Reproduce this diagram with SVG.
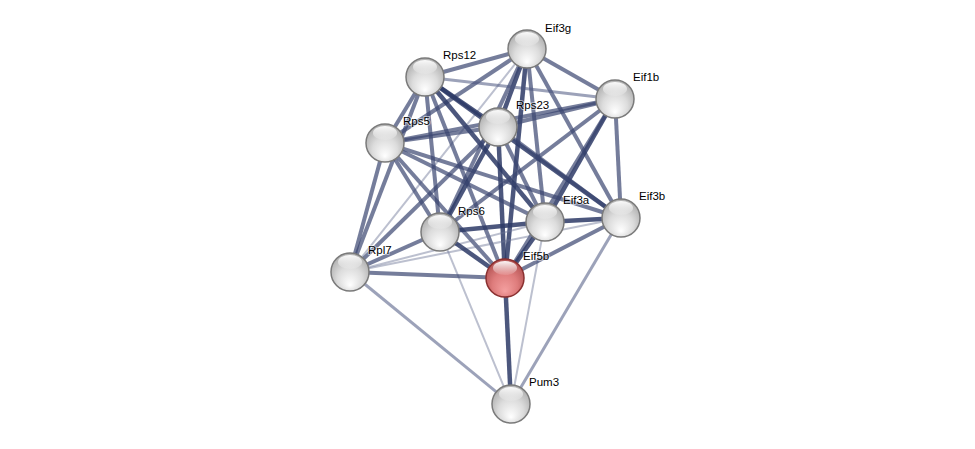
<svg xmlns="http://www.w3.org/2000/svg" width="975" height="449" viewBox="0 0 975 449">
<defs>
<radialGradient id="gw" cx="50%" cy="60%" r="55%" fx="50%" fy="85%">
<stop offset="0" stop-color="#ffffff"/>
<stop offset="0.6" stop-color="#dcdcdc"/>
<stop offset="1" stop-color="#b4b4b4"/>
</radialGradient>
<radialGradient id="gr" cx="50%" cy="60%" r="55%" fx="50%" fy="85%">
<stop offset="0" stop-color="#f4a0a0"/>
<stop offset="0.6" stop-color="#de7c7c"/>
<stop offset="1" stop-color="#b85858"/>
</radialGradient>
<linearGradient id="hl" x1="0" y1="0" x2="0" y2="1">
<stop offset="0" stop-color="#ffffff" stop-opacity="0.95"/>
<stop offset="1" stop-color="#ffffff" stop-opacity="0.1"/>
</linearGradient>
</defs>
<style>
.e{fill:none;stroke-linecap:butt}
.s1{stroke:#2d3a66;stroke-opacity:0.85;stroke-width:4.5}
.s2{stroke:#3a4670;stroke-opacity:0.7;stroke-width:4}
.s3{stroke:#4a5580;stroke-opacity:0.55;stroke-width:3}
.s4{stroke:#6a7395;stroke-opacity:0.45;stroke-width:2}
.nw{fill:url(#gw);stroke:#7a7a7a;stroke-width:1.5}
.nr{fill:url(#gr);stroke:#8a3030;stroke-width:1.5}
.h{fill:url(#hl)}
text{font-family:"Liberation Sans",Arial,sans-serif;font-size:11.5px;fill:#000000;paint-order:stroke;stroke:#ffffff;stroke-width:2px;stroke-opacity:0.5}
</style>
<rect width="975" height="449" fill="#ffffff"/>
<g id="edges">
<line class="e s2" x1="527" y1="49" x2="425" y2="77"/>
<line class="e s2" x1="527" y1="49" x2="615" y2="99"/>
<line class="e s1" x1="527" y1="49" x2="498" y2="127"/>
<line class="e s2" x1="527" y1="49" x2="385" y2="143"/>
<line class="e s2" x1="527" y1="49" x2="440" y2="232"/>
<line class="e s2" x1="527" y1="49" x2="545" y2="222"/>
<line class="e s2" x1="527" y1="49" x2="621" y2="218"/>
<line class="e s1" x1="527" y1="49" x2="505" y2="278"/>
<line class="e s4" x1="527" y1="49" x2="350" y2="272"/>
<line class="e s3" x1="425" y1="77" x2="615" y2="99"/>
<line class="e s1" x1="425" y1="77" x2="498" y2="127"/>
<line class="e s2" x1="425" y1="77" x2="385" y2="143"/>
<line class="e s2" x1="425" y1="77" x2="350" y2="272"/>
<line class="e s2" x1="425" y1="77" x2="440" y2="232"/>
<line class="e s1" x1="425" y1="77" x2="545" y2="222"/>
<line class="e s1" x1="425" y1="77" x2="621" y2="218"/>
<line class="e s2" x1="425" y1="77" x2="505" y2="278"/>
<line class="e s2" x1="615" y1="99" x2="498" y2="127"/>
<line class="e s2" x1="615" y1="99" x2="385" y2="143"/>
<line class="e s1" x1="615" y1="99" x2="545" y2="222"/>
<line class="e s2" x1="615" y1="99" x2="621" y2="218"/>
<line class="e s2" x1="615" y1="99" x2="505" y2="278"/>
<line class="e s2" x1="615" y1="99" x2="440" y2="232"/>
<line class="e s2" x1="498" y1="127" x2="385" y2="143"/>
<line class="e s1" x1="498" y1="127" x2="440" y2="232"/>
<line class="e s2" x1="498" y1="127" x2="545" y2="222"/>
<line class="e s2" x1="498" y1="127" x2="621" y2="218"/>
<line class="e s1" x1="498" y1="127" x2="505" y2="278"/>
<line class="e s2" x1="498" y1="127" x2="350" y2="272"/>
<line class="e s2" x1="385" y1="143" x2="440" y2="232"/>
<line class="e s2" x1="385" y1="143" x2="545" y2="222"/>
<line class="e s2" x1="385" y1="143" x2="621" y2="218"/>
<line class="e s2" x1="385" y1="143" x2="505" y2="278"/>
<line class="e s2" x1="385" y1="143" x2="350" y2="272"/>
<line class="e s1" x1="545" y1="222" x2="621" y2="218"/>
<line class="e s1" x1="545" y1="222" x2="440" y2="232"/>
<line class="e s1" x1="545" y1="222" x2="505" y2="278"/>
<line class="e s4" x1="545" y1="222" x2="350" y2="272"/>
<line class="e s4" x1="545" y1="222" x2="511" y2="404"/>
<line class="e s2" x1="621" y1="218" x2="505" y2="278"/>
<line class="e s3" x1="621" y1="218" x2="511" y2="404"/>
<line class="e s4" x1="621" y1="218" x2="350" y2="272"/>
<line class="e s1" x1="440" y1="232" x2="505" y2="278"/>
<line class="e s2" x1="440" y1="232" x2="350" y2="272"/>
<line class="e s4" x1="440" y1="232" x2="511" y2="404"/>
<line class="e s2" x1="505" y1="278" x2="350" y2="272"/>
<line class="e s1" x1="505" y1="278" x2="511" y2="404"/>
<line class="e s3" x1="350" y1="272" x2="511" y2="404"/>
</g>
<g id="Eif3g"><circle class="nw" cx="527" cy="49" r="19"/><ellipse class="h" cx="527" cy="39" rx="12" ry="7"/><text x="545" y="32">Eif3g</text></g>
<g id="Rps12"><circle class="nw" cx="425" cy="77" r="19"/><ellipse class="h" cx="425" cy="67" rx="12" ry="7"/><text x="443" y="59">Rps12</text></g>
<g id="Eif1b"><circle class="nw" cx="615" cy="99" r="19"/><ellipse class="h" cx="615" cy="89" rx="12" ry="7"/><text x="633" y="81">Eif1b</text></g>
<g id="Rps23"><circle class="nw" cx="498" cy="127" r="19"/><ellipse class="h" cx="498" cy="117" rx="12" ry="7"/><text x="516" y="109">Rps23</text></g>
<g id="Rps5"><circle class="nw" cx="385" cy="143" r="19"/><ellipse class="h" cx="385" cy="133" rx="12" ry="7"/><text x="403" y="125">Rps5</text></g>
<g id="Eif3a"><circle class="nw" cx="545" cy="222" r="19"/><ellipse class="h" cx="545" cy="212" rx="12" ry="7"/><text x="563" y="204">Eif3a</text></g>
<g id="Eif3b"><circle class="nw" cx="621" cy="218" r="19"/><ellipse class="h" cx="621" cy="208" rx="12" ry="7"/><text x="639" y="200">Eif3b</text></g>
<g id="Rps6"><circle class="nw" cx="440" cy="232" r="19"/><ellipse class="h" cx="440" cy="222" rx="12" ry="7"/><text x="458" y="215">Rps6</text></g>
<g id="Rpl7"><circle class="nw" cx="350" cy="272" r="19"/><ellipse class="h" cx="350" cy="262" rx="12" ry="7"/><text x="368" y="254">Rpl7</text></g>
<g id="Eif5b"><circle class="nr" cx="505" cy="278" r="19"/><ellipse class="h" cx="505" cy="268" rx="12" ry="7"/><text x="523" y="260">Eif5b</text></g>
<g id="Pum3"><circle class="nw" cx="511" cy="404" r="19"/><ellipse class="h" cx="511" cy="394" rx="12" ry="7"/><text x="529" y="386">Pum3</text></g>
</svg>
